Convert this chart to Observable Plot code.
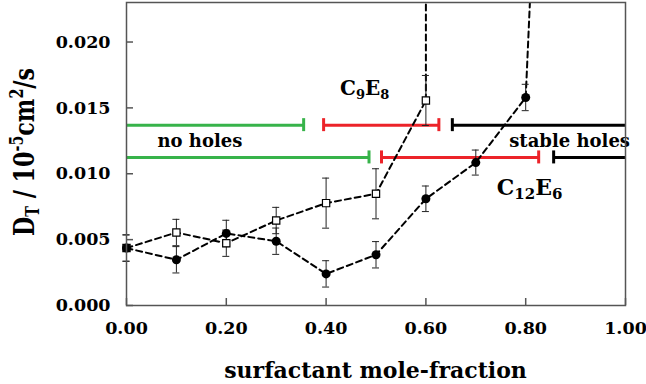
<!DOCTYPE html>
<html><head><meta charset="utf-8">
<script src="https://cdn.jsdelivr.net/npm/d3@7"></script>
<script src="https://cdn.jsdelivr.net/npm/@observablehq/plot@0.6"></script>
<style>
body{margin:0;background:#fff;}
#chart svg{display:block;}
</style></head><body><div id="chart"></div>
<script>
// ---- data ----
const xTicks = [0, 0.2, 0.4, 0.6, 0.8, 1.0];
const yTicks = [0, 0.005, 0.010, 0.015, 0.020];

// C12E6 : filled circles
const c12X = [0, 0.1, 0.2, 0.3, 0.4, 0.5, 0.6, 0.7, 0.8];
const c12Y = [0.00436, 0.00347, 0.00547, 0.00488, 0.0024, 0.00385, 0.0081, 0.01085, 0.01579];
const c12Err = [0.001, 0.001, 0.001, 0.001, 0.001, 0.001, 0.00097, 0.00095, 0.001];
const c12TailX = [0.8, 0.809];
const c12TailY = [0.01579, 0.0235];

// C9E8 : open squares
const c9X = [0, 0.1, 0.2, 0.3, 0.4, 0.5, 0.6];
const c9Y = [0.00436, 0.00554, 0.00473, 0.00645, 0.00777, 0.00848, 0.01556];
const c9Err = [0.001, 0.001, 0.001, 0.001, 0.0019, 0.0019, 0.0019];
const c9TailX = [0.6, 0.6];
const c9TailY = [0.01556, 0.0235];

// phase ranges per surfactant
const rangeSeries = ["C9E8", "C12E6"];
const rangeY = [0.01369, 0.01124];
const noHolesStart = [0, 0];
const noHolesEnd = [0.355, 0.486];
const mixedStart = [0.395, 0.511];
const mixedEnd = [0.626, 0.826];
const stableStart = [0.653, 0.856];
const stableEnd = [1.0, 1.0];

// annotations
const annoText = ["no holes", "stable holes"];
const annoX = [0.062, 0.767];
const annoY = [0.0125, 0.0125];
const formulaParts = [["C", "9", "E", "8"], ["C", "12", "E", "6"]];
const formulaX = [0.429, 0.743];
const formulaY = [0.01594, 0.00835];
const xTitle = "surfactant mole-fraction";

// ---- layout ----
const W = 646, H = 384;
const mL = 126, mR = 21, mT = 2, mB = 79;
const frameW = W - mL - mR, frameH = H - mT - mB;
const yMax = 0.023;
const pxPerY = frameH / yMax, pxPerX = frameW;
const rangeCapHalf = 6.5 / pxPerY;
const errCapHalf = 3.5 / pxPerX;
const FONT = "'DejaVu Serif', serif";
const GREEN = "#37b34a", RED = "#ec2329", AX = "#555";

const c12 = c12X.map((x, i) => ({x, y: c12Y[i], e: c12Err[i]}));
const c9 = c9X.map((x, i) => ({x, y: c9Y[i], e: c9Err[i]}));
const c12Tail = c12TailX.map((x, i) => ({x, y: c12TailY[i]}));
const c9Tail = c9TailX.map((x, i) => ({x, y: c9TailY[i]}));

const segs = [], caps = [];
rangeY.forEach((y, i) => {
  segs.push({y, x1: noHolesStart[i], x2: noHolesEnd[i], c: GREEN});
  segs.push({y, x1: mixedStart[i], x2: mixedEnd[i], c: RED});
  segs.push({y, x1: stableStart[i], x2: stableEnd[i], c: "black"});
  caps.push({x: noHolesEnd[i], y, c: GREEN});
  caps.push({x: mixedStart[i], y, c: RED});
  caps.push({x: mixedEnd[i], y, c: RED});
  caps.push({x: stableStart[i], y, c: "black"});
});
const anno = annoText.map((t, i) => ({t, x: annoX[i], y: annoY[i]}));

const errMarks = (data) => [
  Plot.ruleX(data, {x: "x", y1: d => d.y - d.e, y2: d => d.y + d.e, stroke: "#222", strokeWidth: 1}),
  Plot.ruleY(data, {y: d => d.y + d.e, x1: d => d.x - errCapHalf, x2: d => d.x + errCapHalf, stroke: "#222", strokeWidth: 1}),
  Plot.ruleY(data, {y: d => d.y - d.e, x1: d => d.x - errCapHalf, x2: d => d.x + errCapHalf, stroke: "#222", strokeWidth: 1})
];
const dash = {stroke: "black", strokeWidth: 2, strokeDasharray: "6,4", clip: true};

const plot = Plot.plot({
  width: W, height: H,
  marginLeft: mL, marginRight: mR, marginTop: mT, marginBottom: mB,
  style: {fontFamily: FONT, fontWeight: "bold", fontSize: "17.5px", color: "black", background: "white"},
  x: {domain: [0, 1]},
  y: {domain: [0, yMax]},
  marks: [
    Plot.ruleY(segs, {y: "y", x1: "x1", x2: "x2", stroke: "c", strokeWidth: 3}),
    Plot.ruleX(caps, {x: "x", y1: d => d.y - rangeCapHalf, y2: d => d.y + rangeCapHalf, stroke: "c", strokeWidth: 3}),
    Plot.line(c9, {x: "x", y: "y", ...dash}),
    Plot.line(c9Tail, {x: "x", y: "y", ...dash}),
    Plot.line(c12, {x: "x", y: "y", ...dash}),
    Plot.line(c12Tail, {x: "x", y: "y", ...dash}),
    ...errMarks(c9),
    ...errMarks(c12),
    Plot.dot(c9, {x: "x", y: "y", symbol: "square", r: 4.1, fill: "white", stroke: "black", strokeWidth: 1.2}),
    Plot.dot(c12, {x: "x", y: "y", r: 4.5, fill: "black"}),
    Plot.text(anno, {x: "x", y: "y", text: "t", textAnchor: "start", fontSize: 18, fill: "black"}),
    Plot.tickY(yTicks, {y: d => d, insetRight: frameW - 7, stroke: AX, strokeWidth: 1.5}),
    Plot.tickX(xTicks, {x: d => d, insetTop: frameH - 7, stroke: AX, strokeWidth: 1.5}),
    Plot.frame({stroke: AX, strokeWidth: 1.5}),
    Plot.axisX(xTicks, {tickSize: 0, tickPadding: 16, tickFormat: d => d.toFixed(2), label: null, fontSize: 17.5}),
    Plot.axisY(yTicks, {tickSize: 0, tickPadding: 16, tickFormat: d => d.toFixed(3), label: null, fontSize: 17.5})
  ]
});
document.getElementById("chart").appendChild(plot);

const svg = d3.select(plot);
const sx = plot.scale("x"), sy = plot.scale("y");

// x-axis title
svg.append("text")
  .attr("x", (sx.apply(0) + sx.apply(1)) / 2).attr("y", 378)
  .attr("text-anchor", "middle")
  .attr("font-family", FONT).attr("font-weight", "bold").attr("font-size", 22).attr("fill", "black")
  .text(xTitle);

// formula labels with subscripts
formulaParts.forEach((parts, i) => {
  const big = i === 0 ? 20 : 22, small = i === 0 ? 13 : 15;
  const t = svg.append("text")
    .attr("x", sx.apply(formulaX[i])).attr("y", sy.apply(formulaY[i]))
    .attr("text-anchor", "start")
    .attr("font-family", FONT).attr("font-weight", "bold").attr("fill", "black");
  parts.forEach((p, j) => {
    const sub = j % 2 === 1;
    t.append("tspan").attr("font-size", sub ? small : big)
      .attr("dy", sub ? 4 : (j === 0 ? 0 : -4)).text(p);
  });
});

// y-axis title
const yt = svg.append("text")
  .attr("transform", `translate(34,152) rotate(-90)`)
  .attr("text-anchor", "middle")
  .attr("font-family", FONT).attr("font-weight", "bold").attr("font-size", 28).attr("fill", "black")
  .attr("textLength", 168).attr("lengthAdjust", "spacingAndGlyphs");
yt.append("tspan").text("D");
yt.append("tspan").attr("font-size", 18).attr("dy", 5).text("T");
yt.append("tspan").attr("dy", -5).text(" / 10");
yt.append("tspan").attr("font-size", 18).attr("dy", -11).text("-5");
yt.append("tspan").attr("dy", 11).text("cm");
yt.append("tspan").attr("font-size", 18).attr("dy", -11).text("2");
yt.append("tspan").attr("dy", 11).text("/s");
</script></body></html>
